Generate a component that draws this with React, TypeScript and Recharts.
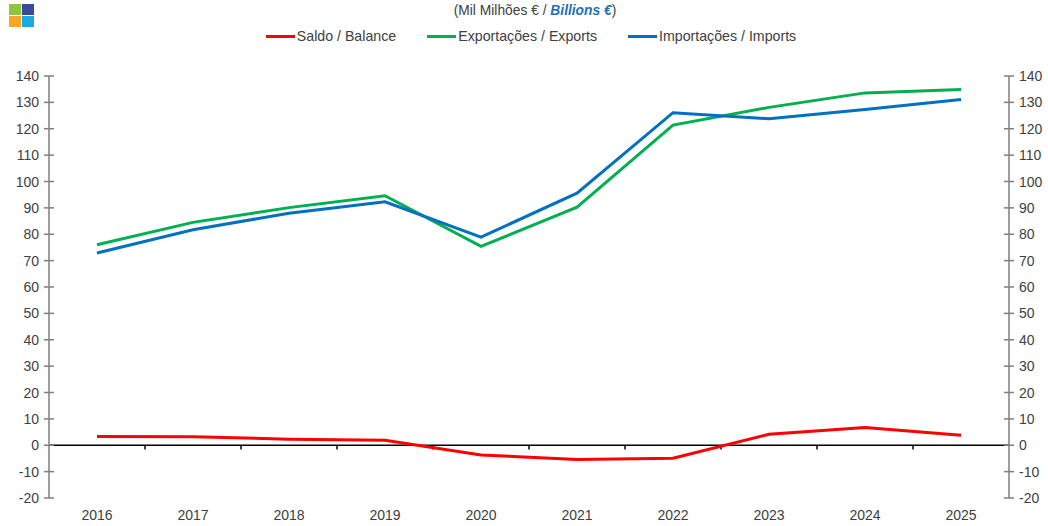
import React from "react";
import { LineChart, Line, XAxis, YAxis, ReferenceLine } from "recharts";

const years = [2016, 2017, 2018, 2019, 2020, 2021, 2022, 2023, 2024, 2025];
const balance = [3.3, 3.2, 2.3, 1.9, -3.7, -5.4, -4.9, 4.2, 6.7, 3.8];
const exportsV = [76.0, 84.5, 90.1, 94.6, 75.4, 90.3, 121.4, 128.1, 133.6, 134.9];
const importsV = [72.9, 81.7, 88.0, 92.3, 78.9, 95.6, 126.1, 123.8, 127.3, 131.1];
const yTicks = [-20, -10, 0, 10, 20, 30, 40, 50, 60, 70, 80, 90, 100, 110, 120, 130, 140];
const boundaries = [2016.5, 2017.5, 2018.5, 2019.5, 2020.5, 2021.5, 2022.5, 2023.5, 2024.5];

const data = years.map((y, i) => ({
  year: y,
  balance: balance[i],
  exports: exportsV[i],
  imports: importsV[i],
}));

const FONT = "'Liberation Sans', Arial, sans-serif";
const TXT = "#404040";
const AX = "#7f7f7f";

const LeftTick = (props: any) => {
  const { x, y, payload } = props;
  return (
    <g>
      <line x1={x + 3} x2={x + 13} y1={y} y2={y} stroke={AX} strokeWidth={1.5} />
      <text x={x - 2} y={y} dy={5} textAnchor="end" fontSize={14} fill={TXT} fontFamily={FONT}>
        {payload.value}
      </text>
    </g>
  );
};

const RightTick = (props: any) => {
  const { x, y, payload } = props;
  return (
    <g>
      <line x1={x - 13} x2={x - 3} y1={y} y2={y} stroke={AX} strokeWidth={1.5} />
      <text x={x + 2} y={y} dy={5} textAnchor="start" fontSize={14} fill={TXT} fontFamily={FONT}>
        {payload.value}
      </text>
    </g>
  );
};

const legendItems = [
  { label: "Saldo / Balance", color: "#FF0000" },
  { label: "Exportações / Exports", color: "#00B050" },
  { label: "Importações / Imports", color: "#0070C0" },
];

export default function App() {
  return (
    <div style={{ position: "absolute", left: 0, top: 0, width: 1048, height: 526, background: "#fff", fontFamily: FONT }}>
      <div style={{ position: "absolute", left: 9, top: 4 }}>
        <div style={{ position: "absolute", left: 0, top: 0, width: 12, height: 11, background: "#8DC63F" }} />
        <div style={{ position: "absolute", left: 13, top: 0, width: 12, height: 11, background: "#3B4A9E" }} />
        <div style={{ position: "absolute", left: 0, top: 12, width: 12, height: 11, background: "#F7A823" }} />
        <div style={{ position: "absolute", left: 13, top: 12, width: 12, height: 11, background: "#1BA9E1" }} />
      </div>
      <div style={{ position: "absolute", left: 0, width: 1070, top: 3, textAlign: "center", fontSize: 13.8, color: TXT }}>
        (Mil Milhões € / <span style={{ color: "#1F6FB5", fontWeight: "bold", fontStyle: "italic" }}>Billions €</span>)
      </div>
      <div style={{ position: "absolute", left: 0, width: 1062, top: 28, display: "flex", justifyContent: "center", fontSize: 14.2, color: TXT }}>
        {legendItems.map((it, i) => (
          <div key={i} style={{ display: "flex", alignItems: "center", marginLeft: i === 0 ? 0 : 31 }}>
            <div style={{ width: 29, height: 3, background: it.color, marginRight: 2 }} />
            <span>{it.label}</span>
          </div>
        ))}
      </div>
      <div style={{ position: "absolute", left: 0, top: 0 }}>
        <LineChart width={1048} height={526} data={data} margin={{ top: 76, right: 0, left: 0, bottom: 0 }}>
          <XAxis
            dataKey="year"
            type="number"
            domain={[2015.5, 2025.5]}
            ticks={years}
            axisLine={false}
            tickLine={false}
            tickSize={0}
            tickMargin={12}
            interval={0}
            height={28}
            tick={{ fontSize: 14, fill: TXT, fontFamily: FONT }}
          />
          <YAxis
            yAxisId="l"
            orientation="left"
            domain={[-20, 140]}
            ticks={yTicks}
            interval={0}
            width={49}
            tickSize={5}
            tickMargin={3}
            tickLine={false}
            axisLine={{ stroke: AX, strokeWidth: 1.5 }}
            tick={(p: any) => <LeftTick {...p} />}
          />
          <YAxis
            yAxisId="r"
            orientation="right"
            domain={[-20, 140]}
            ticks={yTicks}
            interval={0}
            width={39}
            tickSize={5}
            tickMargin={3}
            tickLine={false}
            axisLine={{ stroke: AX, strokeWidth: 1.5 }}
            tick={(p: any) => <RightTick {...p} />}
          />
          <ReferenceLine yAxisId="l" y={0} stroke="#000" strokeWidth={1.5} />
          {boundaries.map((b) => (
            <ReferenceLine
              key={b}
              yAxisId="l"
              segment={[{ x: b, y: 0 }, { x: b, y: -1.6 }]}
              stroke="#000"
              strokeWidth={1.5}
            />
          ))}
          <Line yAxisId="r" dataKey="exports" stroke="none" strokeWidth={0} dot={false} activeDot={false} legendType="none" isAnimationActive={false} />
          <Line yAxisId="l" dataKey="balance" stroke="#FF0000" strokeWidth={3} dot={false} isAnimationActive={false} />
          <Line yAxisId="l" dataKey="exports" stroke="#00B050" strokeWidth={3} dot={false} isAnimationActive={false} />
          <Line yAxisId="l" dataKey="imports" stroke="#0070C0" strokeWidth={3} dot={false} isAnimationActive={false} />
        </LineChart>
      </div>
    </div>
  );
}
